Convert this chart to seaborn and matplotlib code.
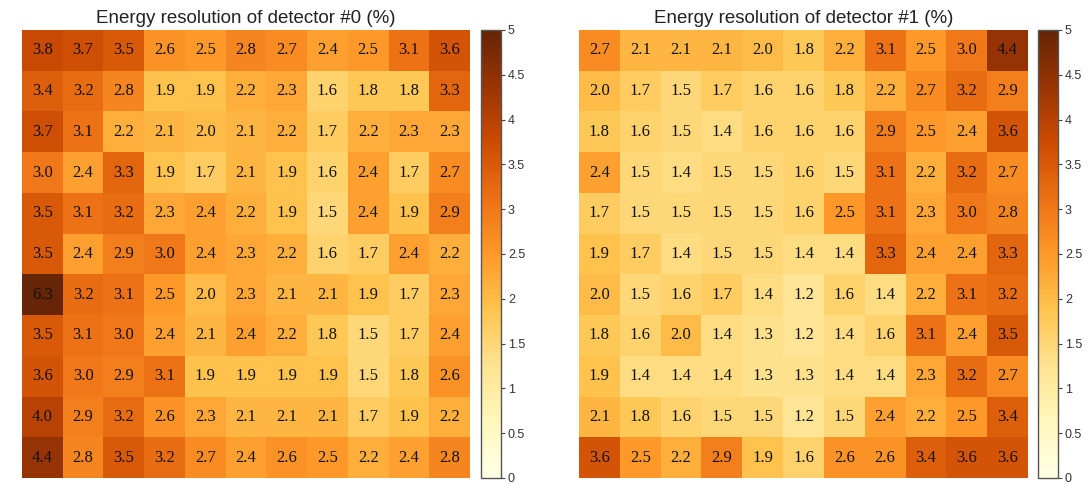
import numpy as np
import pandas as pd
import matplotlib
matplotlib.use('Agg')
import matplotlib.pyplot as plt
import seaborn as sns

# energy resolution (%) per pixel, rows top to bottom
det0 = [
    [3.8, 3.7, 3.5, 2.6, 2.5, 2.8, 2.7, 2.4, 2.5, 3.1, 3.6],
    [3.4, 3.2, 2.8, 1.9, 1.9, 2.2, 2.3, 1.6, 1.8, 1.8, 3.3],
    [3.7, 3.1, 2.2, 2.1, 2.0, 2.1, 2.2, 1.7, 2.2, 2.3, 2.3],
    [3.0, 2.4, 3.3, 1.9, 1.7, 2.1, 1.9, 1.6, 2.4, 1.7, 2.7],
    [3.5, 3.1, 3.2, 2.3, 2.4, 2.2, 1.9, 1.5, 2.4, 1.9, 2.9],
    [3.5, 2.4, 2.9, 3.0, 2.4, 2.3, 2.2, 1.6, 1.7, 2.4, 2.2],
    [6.3, 3.2, 3.1, 2.5, 2.0, 2.3, 2.1, 2.1, 1.9, 1.7, 2.3],
    [3.5, 3.1, 3.0, 2.4, 2.1, 2.4, 2.2, 1.8, 1.5, 1.7, 2.4],
    [3.6, 3.0, 2.9, 3.1, 1.9, 1.9, 1.9, 1.9, 1.5, 1.8, 2.6],
    [4.0, 2.9, 3.2, 2.6, 2.3, 2.1, 2.1, 2.1, 1.7, 1.9, 2.2],
    [4.4, 2.8, 3.5, 3.2, 2.7, 2.4, 2.6, 2.5, 2.2, 2.4, 2.8],
]

det1 = [
    [2.7, 2.1, 2.1, 2.1, 2.0, 1.8, 2.2, 3.1, 2.5, 3.0, 4.4],
    [2.0, 1.7, 1.5, 1.7, 1.6, 1.6, 1.8, 2.2, 2.7, 3.2, 2.9],
    [1.8, 1.6, 1.5, 1.4, 1.6, 1.6, 1.6, 2.9, 2.5, 2.4, 3.6],
    [2.4, 1.5, 1.4, 1.5, 1.5, 1.6, 1.5, 3.1, 2.2, 3.2, 2.7],
    [1.7, 1.5, 1.5, 1.5, 1.5, 1.6, 2.5, 3.1, 2.3, 3.0, 2.8],
    [1.9, 1.7, 1.4, 1.5, 1.5, 1.4, 1.4, 3.3, 2.4, 2.4, 3.3],
    [2.0, 1.5, 1.6, 1.7, 1.4, 1.2, 1.6, 1.4, 2.2, 3.1, 3.2],
    [1.8, 1.6, 2.0, 1.4, 1.3, 1.2, 1.4, 1.6, 3.1, 2.4, 3.5],
    [1.9, 1.4, 1.4, 1.4, 1.3, 1.3, 1.4, 1.4, 2.3, 3.2, 2.7],
    [2.1, 1.8, 1.6, 1.5, 1.5, 1.2, 1.5, 2.4, 2.2, 2.5, 3.4],
    [3.6, 2.5, 2.2, 2.9, 1.9, 1.6, 2.6, 2.6, 3.4, 3.6, 3.6],
]

titles = ['Energy resolution of detector #0 (%)', 'Energy resolution of detector #1 (%)']
cbar_ticks = [0, 0.5, 1, 1.5, 2, 2.5, 3, 3.5, 4, 4.5, 5]
cbar_labels = ['0', '0.5', '1', '1.5', '2', '2.5', '3', '3.5', '4', '4.5', '5']

W, H = 1091, 484
fig = plt.figure(figsize=(W / 100, H / 100), dpi=100)

# pixel boxes (left, top, width, height)
boxes = [((22, 30, 448, 448), (481, 30, 20, 448)),
         ((579, 30, 449, 448), (1038, 30, 20, 448))]

def frac(b):
    x, y, w, h = b
    return [x / W, 1 - (y + h) / H, w / W, h / H]

for data, title, (hb, cb) in zip([det0, det1], titles, boxes):
    ax = fig.add_axes(frac(hb))
    cax = fig.add_axes(frac(cb))
    df = pd.DataFrame(data)
    sns.heatmap(df, ax=ax, cbar_ax=cax, cmap='YlOrBr', vmin=0, vmax=5,
                annot=True, fmt='.1f',
                annot_kws={'fontsize': 12, 'family': 'Liberation Serif', 'color': '#111111'},
                xticklabels=False, yticklabels=False)
    ax.set_title(title, fontsize=13.5, family='Liberation Sans', color='#222222', pad=5)
    cax.set_yticks(cbar_ticks)
    cax.set_yticklabels(cbar_labels)
    cax.tick_params(labelsize=9, length=3, width=0.8, color='#444444', labelcolor='#333333', pad=2)
    for t in cax.get_yticklabels():
        t.set_family('Liberation Sans')
    cbar = ax.collections[0].colorbar
    cbar.outline.set_visible(True)
    cbar.outline.set_edgecolor('#555555')
    cbar.outline.set_linewidth(1.0)

fig.savefig('out.png', dpi=100)
